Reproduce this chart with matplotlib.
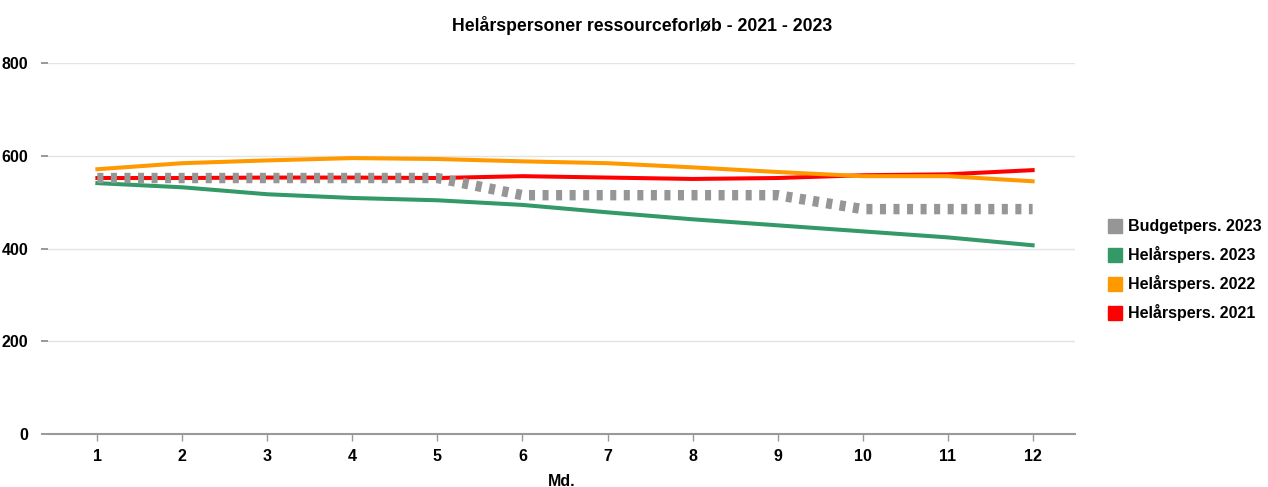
import numpy as np
import matplotlib
matplotlib.use('Agg')
import matplotlib.pyplot as plt
from matplotlib.lines import Line2D

plt.rcParams['font.family'] = ['Liberation Sans', 'DejaVu Sans']
plt.rcParams['font.weight'] = 'bold'

months = [1, 2, 3, 4, 5, 6, 7, 8, 9, 10, 11, 12]
budget_2023 = [552, 552, 552, 552, 552, 515, 515, 515, 515, 485, 485, 485]
helaar_2023 = [541, 532, 517, 509, 504, 494, 478, 463, 450, 437, 424, 407]
helaar_2022 = [571, 584, 590, 595, 593, 588, 584, 575, 565, 556, 556, 545]
helaar_2021 = [552, 552, 553, 553, 552, 556, 553, 550, 552, 558, 560, 569]

c_gray = '#969696'
c_green = '#339966'
c_orange = '#ff9900'
c_red = '#ff0000'

fig = plt.figure(figsize=(12.68, 4.87), dpi=100)
ax = fig.add_axes([0.0379, 0.1088, 0.8100, 0.7618])

ax.plot(months, helaar_2021, color=c_red, lw=2.9, solid_joinstyle='round', label='Helårspers. 2021', zorder=3)
ax.plot(months, helaar_2022, color=c_orange, lw=2.9, solid_joinstyle='round', label='Helårspers. 2022', zorder=3)
ax.plot(months, helaar_2023, color=c_green, lw=2.9, solid_joinstyle='round', label='Helårspers. 2023', zorder=3)
ax.plot(months, budget_2023, color=c_gray, lw=7.5, dashes=(0.58, 0.72), dash_capstyle='butt',
        label='Budgetpers. 2023', zorder=4)

ax.set_xlim(0.42, 12.5)
ax.set_ylim(0, 800)
ax.set_xticks(months)
ax.set_yticks([0, 200, 400, 600, 800])
ax.grid(axis='y', color='#e3e3e3', lw=1)
ax.set_axisbelow(True)
for s in ['top', 'right', 'left']:
    ax.spines[s].set_visible(False)
ax.spines['bottom'].set_color('#999999')
ax.spines['bottom'].set_linewidth(1.5)
ax.tick_params(axis='x', length=5, color='#999999', width=1, labelsize=11.5, pad=6)
ax.tick_params(axis='y', length=5, color='#888888', width=1.2, labelsize=11.5, pad=9)
ax.set_xlabel('Md.', fontsize=11.5, fontweight='bold', labelpad=7)

fig.suptitle('Helårspersoner ressourceforløb - 2021 - 2023', x=0.506, y=0.968,
             fontsize=12.7, fontweight='bold')

# legend in reference order, square markers
handles = [Line2D([], [], ls='none', marker='s', ms=10, color=c) for c in [c_gray, c_green, c_orange, c_red]]
labels = ['Budgetpers. 2023', 'Helårspers. 2023', 'Helårspers. 2022', 'Helårspers. 2021']
fig.legend(handles, labels, loc='center left', bbox_to_anchor=(0.862, 0.445), frameon=False,
           fontsize=11.5, handletextpad=0.3, labelspacing=0.75, handlelength=1.0)

fig.savefig('out.png', dpi=100)
